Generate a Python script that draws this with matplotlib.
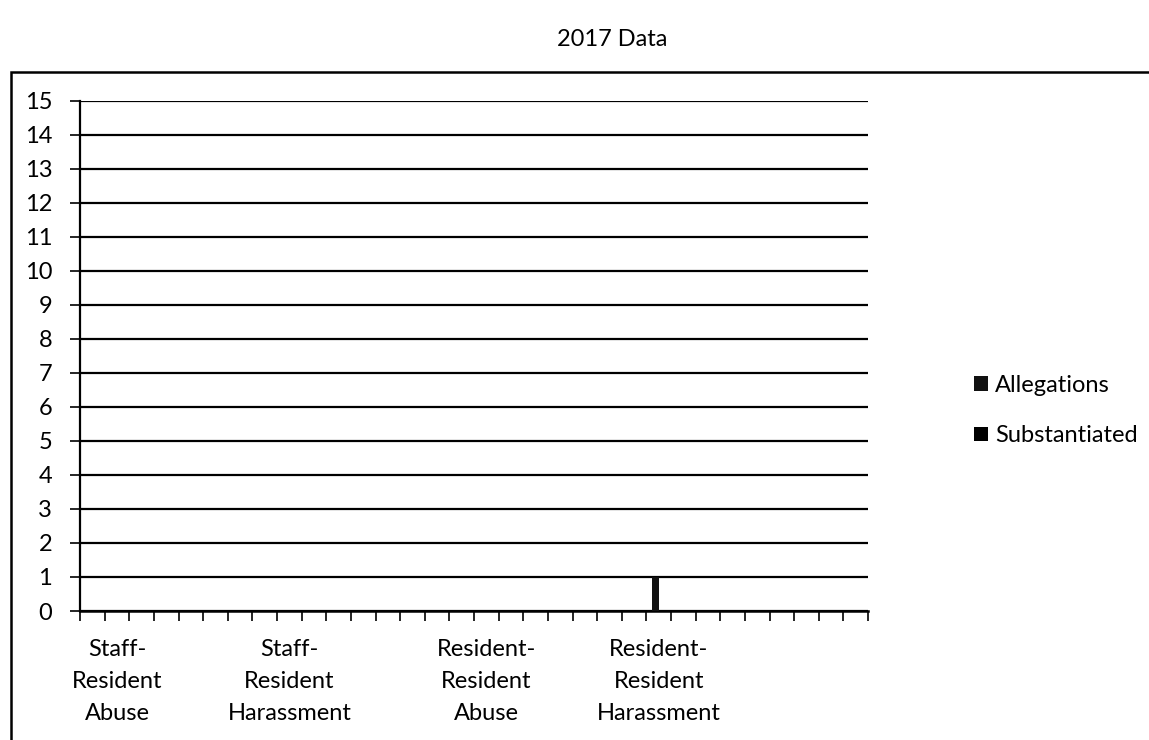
import numpy as np
import matplotlib
matplotlib.use('Agg')
import matplotlib.pyplot as plt
from matplotlib.patches import Rectangle

plt.rcParams['font.family'] = ['Lato', 'DejaVu Sans']

# 32 category slots, only four of them carry a name
labels = [''] * 32
labels[1] = 'Staff-\nResident\nAbuse'
labels[8] = 'Staff-\nResident\nHarassment'
labels[16] = 'Resident-\nResident\nAbuse'
labels[23] = 'Resident-\nResident\nHarassment'

allegations = [0] * 32
allegations[23] = 1
substantiated = [0] * 32

yticks = list(range(0, 16))

fs = 17

fig = plt.figure(figsize=(11.49, 7.40), dpi=100)
ax = fig.add_axes([80 / 1149, 129 / 740, 788 / 1149, 510.3 / 740])

x = np.arange(len(labels))
w = 1 / 3.5
ax.bar(x - w / 2, allegations, w, color='#111111', label='Allegations', zorder=3)
ax.bar(x + w / 2, substantiated, w, color='black', label='Substantiated', zorder=3)

ax.set_xlim(-0.5, len(labels) - 0.5)
ax.set_ylim(0, 15)
ax.set_yticks(yticks)
ax.set_yticklabels([str(v) for v in yticks], fontsize=fs)
ax.yaxis.grid(True, color='black', linewidth=1.6, zorder=1)
ax.set_axisbelow(True)

# tick marks at category boundaries, names at category centres
ax.set_xticks(np.arange(-0.5, len(labels), 1.0))
ax.set_xticklabels([])
ax.set_xticks(x, minor=True)
ax.set_xticklabels(labels, minor=True, fontsize=fs, linespacing=1.65)
ax.tick_params(axis='x', which='major', length=7, width=1.2, direction='out')
ax.tick_params(axis='x', which='minor', length=0, pad=20)
ax.tick_params(axis='y', length=7, width=1.2, pad=13)

for s in ['top', 'right']:
    ax.spines[s].set_visible(False)
ax.spines['left'].set_linewidth(1.6)
ax.spines['bottom'].set_linewidth(1.8)

fig.legend(loc='upper left', bbox_to_anchor=(962 / 1149, 1 - 363 / 740),
           frameon=False, fontsize=fs, borderpad=0, handlelength=0.6,
           handleheight=0.6, handletextpad=0.3, labelspacing=1.25)

fig.text(612 / 1149, 1 - 40 / 740, '2017 Data', ha='center', va='center', fontsize=fs)

fig.patches.append(Rectangle((11 / 1149, -0.05), 1.05, 0.05 + 1 - 72 / 740,
                             transform=fig.transFigure, fill=False,
                             edgecolor='black', linewidth=1.8))

fig.savefig('out.png', dpi=100)
